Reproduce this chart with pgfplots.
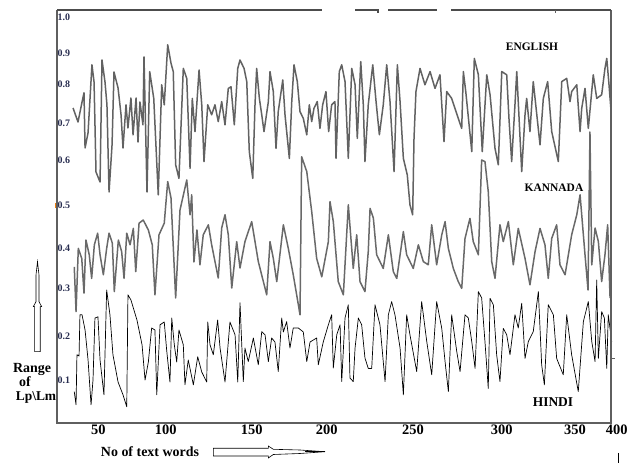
\documentclass[border=0pt]{standalone}
\usepackage{pgfplots}
\pgfplotsset{compat=1.18}
\usepackage{fontspec}
\setmainfont{Liberation Serif}
\definecolor{engcol}{RGB}{98,98,98}
\definecolor{kancol}{RGB}{105,105,105}
\definecolor{ticklab}{RGB}{40,45,80}
\definecolor{framec}{RGB}{95,95,95}
\begin{document}
\begin{tikzpicture}
\begin{axis}[
  name=ax, at={(0,0)}, anchor=south west,
  scale only axis, width=561bp, height=413bp,
  xmin=30, xmax=404, ymin=-0.0125, ymax=1.02,
  axis line style={draw=none},
  major tick length=0pt,
  xtick={57.5,102.5,159.8,209.8,267.3,326.5,375.3,403.1},
  xticklabels={50,100,150,200,250,300,350,400},
  xticklabel style={font=\fontsize{14.5}{14.5}\selectfont\bfseries, inner sep=1.5bp},
  ytick={0.095,0.205,0.325,0.425,0.5325,0.645,0.7375,0.835,0.9125,1.0025},
  yticklabels={0.1,0.2,0.3,0.4,0.5,0.6,0.7,0.8,0.9,1.0},
  yticklabel style={anchor=west, inner sep=0.5bp, font=\fontsize{10}{10}\selectfont\bfseries, text=ticklab},
  clip=true,
]
% ENGLISH
\addplot[engcol, line width=1.5bp, line join=round, mark=none] table {
40.7 0.775
44.0 0.740
46.7 0.790
48.0 0.813
48.7 0.675
50.7 0.713
53.3 0.883
54.7 0.840
56.0 0.615
58.7 0.590
60.0 0.895
62.0 0.840
63.3 0.783
64.7 0.565
66.7 0.683
68.0 0.865
70.7 0.825
72.7 0.758
74.0 0.675
76.0 0.783
77.3 0.725
79.3 0.800
80.7 0.708
82.7 0.800
84.0 0.690
85.3 0.790
87.3 0.733
88.0 0.903
90.0 0.565
91.8 0.866
94.5 0.799
97.5 0.558
99.8 0.833
101.5 0.783
103.8 0.933
106.0 0.887
107.5 0.866
109.1 0.633
111.3 0.599
114.2 0.874
116.5 0.849
118.7 0.624
120.2 0.799
122.0 0.716
124.7 0.870
126.5 0.783
128.0 0.641
130.5 0.783
133.1 0.758
135.3 0.783
137.5 0.741
139.8 0.791
142.0 0.733
144.2 0.824
146.0 0.828
148.2 0.733
150.5 0.874
152.0 0.895
154.7 0.874
156.5 0.841
158.2 0.666
160.5 0.599
162.0 0.783
163.1 0.874
164.9 0.799
166.5 0.758
168.0 0.716
170.9 0.791
172.0 0.866
174.2 0.816
176.0 0.674
177.5 0.766
180.5 0.845
182.0 0.758
184.9 0.649
186.5 0.791
188.0 0.883
190.2 0.841
192.0 0.766
194.2 0.749
196.5 0.708
198.2 0.783
199.8 0.741
201.3 0.774
203.5 0.791
205.3 0.724
207.1 0.783
209.3 0.816
211.1 0.716
213.1 0.783
215.3 0.791
216.0 0.649
218.2 0.866
219.8 0.883
222.0 0.841
224.2 0.649
226.5 0.874
228.7 0.833
230.2 0.699
232.5 0.891
234.2 0.783
235.3 0.641
237.5 0.783
240.5 0.883
242.7 0.791
244.9 0.708
247.5 0.783
249.8 0.883
252.0 0.791
254.7 0.616
256.9 0.883
258.7 0.791
260.9 0.649
263.5 0.608
265.3 0.533
267.1 0.508
268.0 0.699
269.3 0.816
272.0 0.874
275.3 0.833
278.7 0.866
282.0 0.824
285.3 0.858
288.0 0.691
289.8 0.816
293.1 0.799
297.5 0.749
299.8 0.724
300.9 0.866
302.5 0.816
306.5 0.666
308.2 0.899
310.9 0.858
313.5 0.666
316.5 0.858
318.7 0.808
322.0 0.674
324.2 0.633
326.5 0.866
329.8 0.858
331.3 0.749
333.1 0.641
335.3 0.783
336.5 0.866
339.8 0.616
342.0 0.758
343.1 0.799
345.3 0.716
347.5 0.841
352.0 0.683
354.2 0.799
357.1 0.841
359.8 0.716
364.2 0.641
366.5 0.841
369.8 0.849
372.0 0.791
373.1 0.816
376.5 0.833
378.7 0.716
379.8 0.774
382.0 0.824
384.2 0.724
387.5 0.858
389.8 0.799
393.1 0.808
395.3 0.874
396.5 0.899
398.0 0.833
399.3 0.770
};
% KANNADA
\addplot[kancol, line width=1.5bp, line join=round, mark=none] table {
41.5 0.378
42.7 0.266
44.2 0.424
46.5 0.399
48.0 0.312
49.3 0.445
51.5 0.408
53.1 0.349
54.9 0.433
57.1 0.462
58.7 0.408
60.9 0.358
63.1 0.424
64.7 0.462
66.9 0.437
68.2 0.316
70.9 0.445
73.1 0.416
74.7 0.349
76.5 0.462
78.7 0.433
80.9 0.474
82.5 0.366
84.7 0.487
87.5 0.495
90.9 0.470
93.5 0.433
95.3 0.308
98.0 0.458
101.5 0.487
103.8 0.591
106.0 0.550
109.1 0.300
112.0 0.520
116.5 0.595
118.7 0.508
119.8 0.558
121.3 0.390
123.3 0.470
125.3 0.383
127.5 0.458
130.9 0.483
133.1 0.433
137.5 0.350
139.8 0.475
142.0 0.508
144.2 0.458
146.5 0.325
149.8 0.441
152.0 0.375
155.3 0.441
159.8 0.491
164.2 0.391
169.8 0.308
172.0 0.441
174.2 0.399
176.5 0.341
180.9 0.483
184.2 0.424
187.5 0.358
190.9 0.283
192.0 0.258
193.1 0.653
196.5 0.616
199.8 0.516
203.1 0.399
206.5 0.353
210.9 0.441
212.0 0.541
214.2 0.491
217.5 0.341
220.9 0.308
224.2 0.533
227.5 0.374
229.8 0.458
232.0 0.341
235.3 0.316
237.5 0.416
238.7 0.524
240.9 0.500
243.1 0.408
247.5 0.374
250.9 0.458
254.2 0.366
256.5 0.349
260.9 0.466
263.1 0.408
267.5 0.374
270.9 0.433
274.2 0.391
277.5 0.383
279.8 0.483
283.1 0.383
286.5 0.458
288.7 0.491
290.9 0.424
294.2 0.374
297.5 0.341
299.8 0.324
302.0 0.449
305.3 0.499
307.5 0.441
310.9 0.408
313.1 0.645
315.3 0.641
317.5 0.566
319.8 0.391
322.0 0.349
325.3 0.483
327.5 0.441
330.9 0.491
334.2 0.383
337.5 0.474
342.0 0.399
345.3 0.333
348.7 0.416
352.0 0.474
355.3 0.433
357.5 0.349
359.8 0.449
363.1 0.483
365.3 0.383
368.7 0.358
373.1 0.458
376.5 0.508
378.7 0.558
382.0 0.408
384.0 0.320
385.3 0.715
386.5 0.383
388.7 0.475
390.9 0.441
393.1 0.341
395.3 0.408
397.1 0.483
398.7 0.300
};
% HINDI
\addplot[black, line width=0.7bp, line join=round, mark=none] table {
41.5 0.066
42.7 0.033
43.3 0.158
44.7 0.155
45.3 0.258
46.7 0.258
48.7 0.220
50.7 0.145
52.7 0.033
54.0 0.095
55.3 0.250
57.3 0.253
58.7 0.145
61.3 0.058
63.1 0.320
65.3 0.258
67.3 0.158
70.7 0.090
74.0 0.058
76.5 0.028
77.3 0.308
79.3 0.295
83.3 0.245
86.7 0.183
88.7 0.095
90.9 0.140
93.1 0.225
95.3 0.220
96.5 0.058
98.7 0.233
101.5 0.240
103.1 0.170
105.3 0.090
106.5 0.250
108.2 0.183
109.8 0.140
111.3 0.220
114.2 0.183
115.3 0.083
117.5 0.145
120.9 0.083
123.8 0.153
126.5 0.115
129.8 0.090
130.5 0.240
132.0 0.183
134.2 0.158
137.1 0.245
138.7 0.175
142.0 0.090
145.3 0.240
148.7 0.208
150.5 0.090
152.0 0.288
154.2 0.091
155.3 0.175
157.5 0.141
160.9 0.200
164.2 0.133
166.5 0.216
168.7 0.208
170.9 0.141
173.1 0.200
175.3 0.190
177.5 0.116
179.8 0.250
180.9 0.215
183.1 0.241
185.3 0.175
187.5 0.225
190.9 0.225
194.2 0.215
196.5 0.141
198.7 0.190
203.1 0.200
204.2 0.133
207.5 0.190
210.9 0.233
213.1 0.258
214.2 0.125
216.5 0.208
218.7 0.233
219.8 0.091
222.0 0.250
224.2 0.283
225.3 0.100
227.5 0.091
228.7 0.175
230.9 0.250
233.1 0.233
235.3 0.150
237.5 0.124
239.8 0.124
242.0 0.283
245.3 0.233
248.7 0.091
250.9 0.258
253.1 0.291
255.3 0.258
258.7 0.175
260.9 0.058
263.1 0.258
265.3 0.208
269.8 0.116
273.1 0.291
276.5 0.191
279.8 0.108
283.1 0.291
286.5 0.224
288.7 0.141
290.9 0.066
293.1 0.258
296.5 0.166
298.7 0.116
302.0 0.258
304.2 0.250
306.5 0.191
308.7 0.124
310.9 0.316
313.1 0.300
315.3 0.191
317.5 0.074
318.7 0.299
320.9 0.283
323.1 0.158
325.3 0.091
327.5 0.224
329.8 0.208
332.0 0.158
335.3 0.258
337.5 0.225
339.8 0.287
342.0 0.149
344.2 0.191
347.5 0.216
350.9 0.316
353.1 0.133
354.9 0.083
357.5 0.283
360.9 0.258
363.1 0.149
367.5 0.108
369.8 0.258
373.1 0.158
377.5 0.066
380.9 0.241
384.2 0.291
386.5 0.191
388.7 0.141
389.8 0.345
390.9 0.149
393.1 0.266
394.9 0.250
396.5 0.124
397.5 0.258
399.8 0.191
};
\end{axis}
\begin{scope}[shift={(ax.south west)}]
\begin{scope}[shift={(-57bp,423bp)}, x=1bp, y=-1bp]
  % frame
  \draw[framec, line width=1.3bp] (57,10) -- (57,423) -- (611,423) -- (611,10);
  \draw[framec!80!black, line width=1.8bp] (57,10) -- (322,10);
  \draw[framec!80!black, line width=1.8bp] (355,10) -- (378,10) -- (378,13);
  \draw[framec!80!black, line width=1.8bp] (388,10) -- (437,10);
  \draw[framec!80!black, line width=1.8bp] (451,10) -- (611,10);
  \draw[framec, line width=0.8bp] (555,10) -- (555,13);
  \draw[framec, line width=0.8bp] (611,358) -- (615,358);
  \draw[black, line width=0.8bp] (618,453) -- (618,463);
  \fill[orange!80!brown] (54.5,203) rectangle (56,208);
  % series names
  \node[anchor=base, font=\fontsize{11.5}{11.5}\selectfont\bfseries, inner sep=0] at (532,51) {ENGLISH};
  \node[anchor=base, font=\fontsize{11.5}{11.5}\selectfont\bfseries, inner sep=0] at (554,192) {KANNADA};
  \node[anchor=base, font=\fontsize{13.5}{13.5}\selectfont\bfseries, inner sep=0] at (553,406.5) {HINDI};
  % axis descriptions
  \node[anchor=base, font=\fontsize{14}{14}\selectfont\bfseries, inner sep=0] at (32,372.5) {Range};
  \node[anchor=base, font=\fontsize{14}{14}\selectfont\bfseries, inner sep=0] at (25,387) {of};
  \node[anchor=base, font=\fontsize{13.5}{13.5}\selectfont\bfseries, inner sep=0] at (36,401) {Lp\textbackslash Lm};
  \node[anchor=base, font=\fontsize{14}{14}\selectfont\bfseries, inner sep=0] at (150,456.5) {No of text words};
  % hollow arrows
  \draw[black, line width=0.6bp, fill=white, line join=miter]
    (34.7,351.7) -- (40.3,351.7) -- (40.3,306.7) -- (41.7,306.7) -- (39,301.7) -- (39,275)
    -- (37.5,261.7) -- (36,275) -- (36,301.7) -- (33.3,306.7) -- (34.7,306.7) -- cycle;
  \draw[black, line width=0.6bp, fill=white, line join=miter]
    (213.3,448.3) -- (268.3,448.3) -- (268.3,446) -- (273.3,449.3) -- (300,450) -- (325,451.7)
    -- (300,453.5) -- (273.3,454.5) -- (268.3,458) -- (268.3,456) -- (213.3,456) -- cycle;
  \draw[black, line width=1bp] (305,451.7) -- (325,451.7);
  \pgfresetboundingbox
  \path (0,0) rectangle (635,463);
\end{scope}
\end{scope}
\end{tikzpicture}
\end{document}
